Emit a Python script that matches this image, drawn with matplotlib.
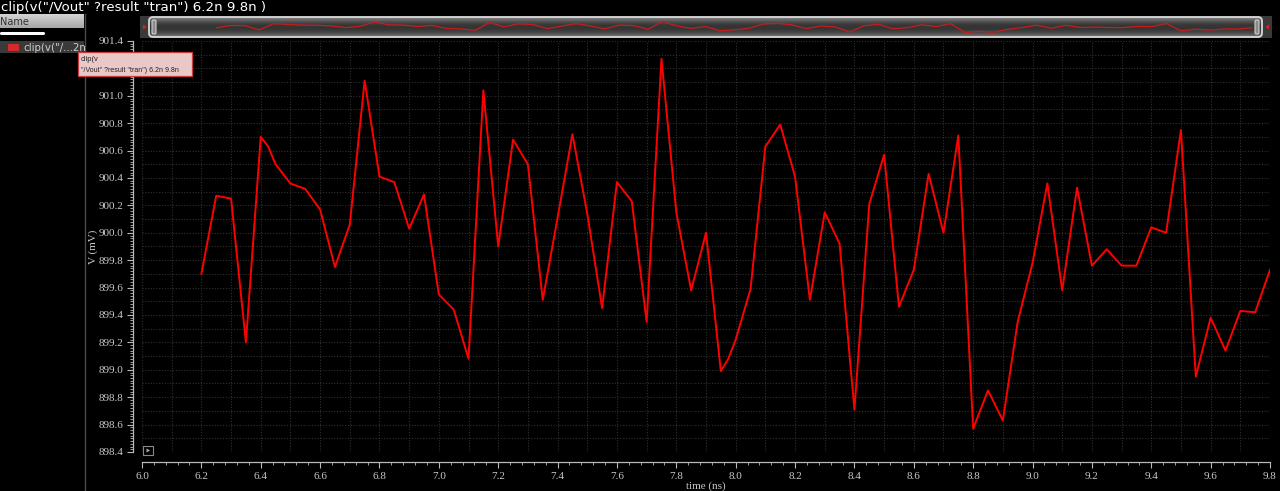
import matplotlib
matplotlib.use('Agg')
import matplotlib.pyplot as plt
import numpy as np
from matplotlib.patches import Rectangle, FancyBboxPatch, Polygon
from matplotlib.colors import LinearSegmentedColormap
from matplotlib.ticker import MultipleLocator, FormatStrFormatter

# transient samples of v("/Vout") clipped to 6.2n..9.8n
time_ns = [6.2, 6.25, 6.3, 6.35, 6.4, 6.425, 6.45, 6.5, 6.55, 6.6,
           6.65, 6.7, 6.75, 6.8, 6.85, 6.9, 6.95, 7.0, 7.05, 7.1,
           7.15, 7.2, 7.25, 7.3, 7.35, 7.4, 7.45, 7.5, 7.55, 7.6,
           7.65, 7.7, 7.75, 7.8, 7.85, 7.9, 7.95, 7.975, 8.0, 8.05,
           8.1, 8.15, 8.2, 8.25, 8.3, 8.35, 8.4, 8.45, 8.5, 8.55,
           8.6, 8.65, 8.7, 8.75, 8.8, 8.85, 8.9, 8.95, 9.0, 9.05,
           9.1, 9.15, 9.2, 9.25, 9.3, 9.35, 9.4, 9.45, 9.5, 9.55,
           9.6, 9.65, 9.7, 9.75, 9.8]
vout_mv = [899.70, 900.27, 900.25, 899.20, 900.70, 900.63, 900.50, 900.36, 900.32, 900.17,
           899.75, 900.06, 901.11, 900.41, 900.37, 900.03, 900.28, 899.55, 899.44, 899.08,
           901.04, 899.90, 900.68, 900.50, 899.51, 900.11, 900.72, 900.14, 899.45, 900.37,
           900.23, 899.35, 901.27, 900.15, 899.58, 900.00, 898.99, 899.08, 899.22, 899.59,
           900.63, 900.79, 900.41, 899.51, 900.15, 899.92, 898.71, 900.21, 900.57, 899.46,
           899.73, 900.43, 900.00, 900.71, 898.57, 898.85, 898.63, 899.35, 899.78, 900.36,
           899.58, 900.33, 899.76, 899.88, 899.76, 899.76, 900.04, 900.00, 900.75, 898.95,
           899.38, 899.14, 899.43, 899.42, 899.73]

title = 'clip(v("/Vout" ?result "tran") 6.2n 9.8n )'
trace_name = 'clip(v("/...2n'

W, H = 1280, 491
fig = plt.figure(figsize=(W / 100, H / 100), dpi=100)
fig.patch.set_facecolor('black')

# main plot area (pixel box 142..1270 x 41..452)
ax = fig.add_axes([142 / W, (H - 452) / H, (1270 - 142) / W, (452 - 41) / H])
ax.set_facecolor('black')
ax.plot(time_ns, vout_mv, color='#ff0000', lw=1.4, zorder=3)
ax.set_xlim(6.0, 9.8)
ax.set_ylim(898.4, 901.4)

for x in np.arange(6.0, 9.85, 0.1):
    ax.axvline(x, color='#303030', lw=0.8, ls=(0, (1, 1.5)), zorder=1)
for y in np.arange(898.4, 901.45, 0.1):
    ax.axhline(y, color='#303030', lw=0.8, ls=(0, (1, 1.5)), zorder=1)

for side in ['top', 'right']:
    ax.spines[side].set_visible(False)
ax.spines['left'].set_position(('outward', 6.5))
ax.spines['bottom'].set_position(('outward', 7.2))
for side in ['left', 'bottom']:
    ax.spines[side].set_color('#b8b8b8')
    ax.spines[side].set_linewidth(0.9)

ax.xaxis.set_major_locator(MultipleLocator(0.2))
ax.xaxis.set_minor_locator(MultipleLocator(0.04))
ax.yaxis.set_major_locator(MultipleLocator(0.2))
ax.yaxis.set_minor_locator(MultipleLocator(0.02))
ax.xaxis.set_major_formatter(FormatStrFormatter('%.1f'))
ax.yaxis.set_major_formatter(FormatStrFormatter('%.1f'))
ax.tick_params(which='major', length=4, width=0.8, color='#b8b8b8',
               labelcolor='#c8c8c8', labelsize=8, pad=3)
ax.tick_params(which='minor', length=2, width=0.6, color='#b8b8b8')
for lbl in ax.get_xticklabels() + ax.get_yticklabels():
    lbl.set_family('Liberation Serif')

ax.set_xlabel('time (ns)', color='#c8c8c8', fontsize=8, family='Liberation Serif')
ax.set_ylabel('V (mV)', color='#c8c8c8', fontsize=8, family='Liberation Serif')
ax.xaxis.set_label_coords(0.5, -0.072)
ax.yaxis.set_label_coords(-0.039, 0.5)

# overlay for the viewer chrome, in pixel coordinates
ui = fig.add_axes([0, 0, 1, 1], zorder=5)
ui.patch.set_alpha(0)
ui.axis('off')


def grad(x0, x1, y0, y1, colors):
    cmap = LinearSegmentedColormap.from_list('g', colors)
    return ui.imshow(np.linspace(0, 1, 64).reshape(-1, 1), cmap=cmap, aspect='auto',
                     extent=(x0, x1, y1, y0), interpolation='bilinear', zorder=1)


ui.text(1, 7, title, color='white', fontsize=9.6, va='center', ha='left')

# left panel
grad(0, 84, 14, 28, ['#d4d4d4', '#a6a6a6'])
ui.text(0, 21.5, 'Name', color='#303030', fontsize=7, va='center')
ui.add_patch(FancyBboxPatch((0, 32), 45, 3, boxstyle='round,pad=0,rounding_size=1.5',
                            fc='white', ec='none', zorder=2))
ui.add_patch(Rectangle((0, 41), 84, 12, fc='#3a3a3a', ec='none', zorder=2))
ui.add_patch(Rectangle((8, 44), 11, 7, fc='#d42a2a', ec='none', zorder=3))
ui.text(23, 47.5, trace_name, color='#cfcfcf', fontsize=7.4, va='center', zorder=3)
ui.plot([85, 85], [14, 491], color='#4a4a4a', lw=1, zorder=2)

# tooltip
ui.add_patch(Rectangle((78, 52), 114, 24, fc='#eac8c8', ec='#c83c3c', lw=0.9, zorder=6))
ui.text(81, 59, 'clip(v', color='#202020', fontsize=5.4, va='center', zorder=7,
        family='Liberation Sans')
ui.text(81, 70, '"/Vout" ?result "tran") 6.2n 9.8n', color='#202020', fontsize=5.0,
        va='center', zorder=7, family='Liberation Sans')

# overview scrollbar
ui.add_patch(Rectangle((140, 16), 1132, 22, fc='#3a3a3a', ec='none', zorder=1))
ui.add_patch(Polygon([[143, 24.5], [143, 29.5], [146.5, 27]], closed=True,
                     fc='#e02020', ec='none', zorder=2))
ui.add_patch(Polygon([[1269, 24.5], [1269, 29.5], [1265.5, 27]], closed=True,
                     fc='#e02020', ec='none', zorder=2))
im = grad(149, 1262, 17, 37, ['#8a8a8a', '#555555', '#363636', '#343434', '#4a4a4a', '#7a7a7a'])
bar = FancyBboxPatch((149, 17), 1113, 20, boxstyle='round,pad=0,rounding_size=4',
                     fc='none', ec='#d8d8d8', lw=1.3, zorder=3)
ui.add_patch(bar)
im.set_clip_path(bar)
ui.add_patch(FancyBboxPatch((152, 20), 4, 14, boxstyle='round,pad=0,rounding_size=1.5',
                            fc='#8a8a8a', ec='#d0d0d0', lw=0.8, zorder=4))
ui.add_patch(FancyBboxPatch((1255, 20), 4, 14, boxstyle='round,pad=0,rounding_size=1.5',
                            fc='#8a8a8a', ec='#d0d0d0', lw=0.8, zorder=4))

# small marker box in plot corner
ui.add_patch(Rectangle((143, 446), 10, 9, fc='black', ec='#8a8a8a', lw=0.8, zorder=4))
ui.add_patch(Polygon([[146.5, 448.5], [146.5, 452.5], [150, 450.5]], closed=True,
                     fc='#b0b0b0', ec='none', zorder=5))

ui.set_xlim(0, W)
ui.set_ylim(H, 0)

# mini trace inside the scrollbar
mini = fig.add_axes([216 / W, (H - 34) / H, (1253 - 216) / W, 14 / H], zorder=6)
mini.patch.set_alpha(0)
mini.axis('off')
mini.plot(time_ns, vout_mv, color='#c81c1c', lw=0.9)
mini.set_xlim(6.2, 9.8)
mini.set_ylim(898.2, 901.6)

fig.savefig('out.png', dpi=100, facecolor='black')
plt.close(fig)
